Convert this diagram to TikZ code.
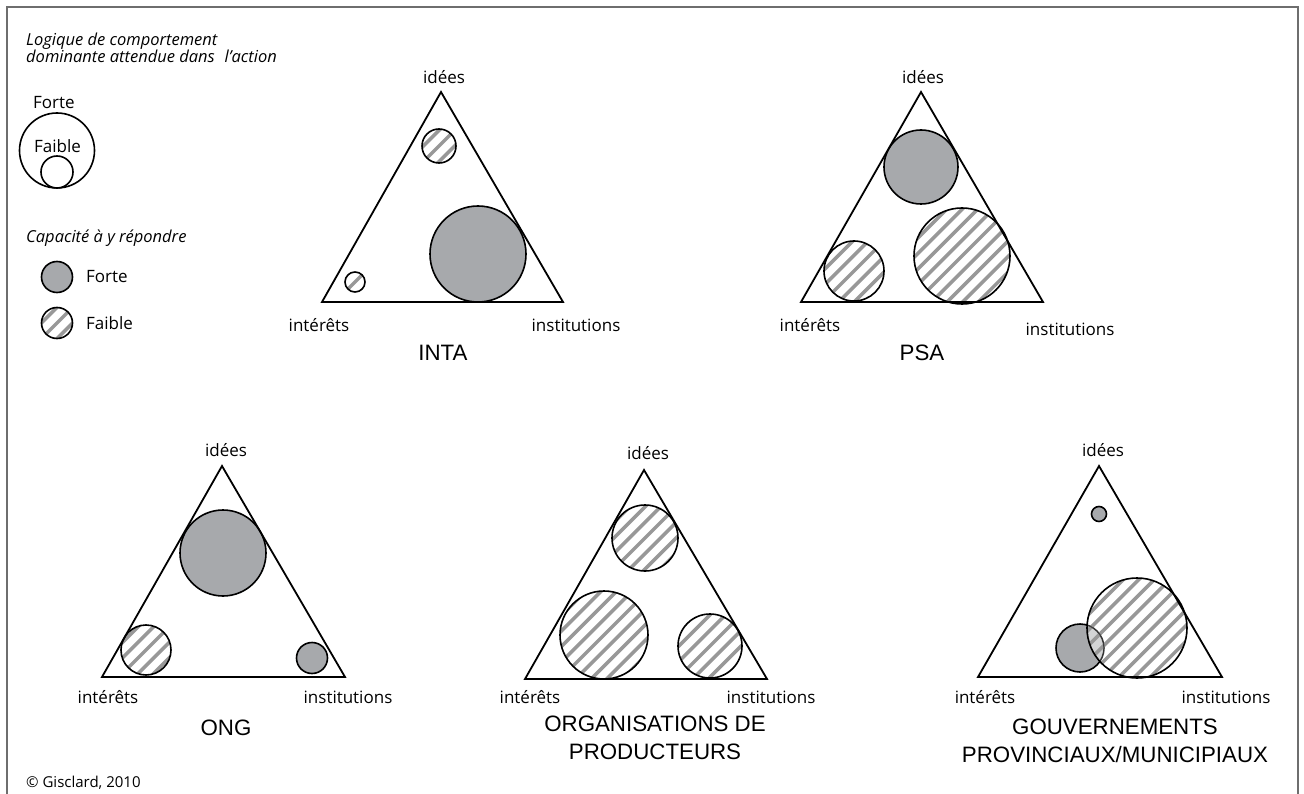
\documentclass[tikz,border=0pt]{standalone}
\usepackage{fontspec}
\setmainfont{Open Sans}
\newfontfamily\titlefont{Liberation Sans}
\definecolor{fillgray}{RGB}{167,169,172}
\definecolor{hatchgray}{RGB}{152,152,152}
\definecolor{framegray}{RGB}{110,110,110}
\tikzset{
  tri/.style={draw=black, line width=1.8pt, line join=miter},
  ring/.style={draw=black, line width=1.6pt},
  solidc/.style={ring, fill=fillgray},
  lab/.style={font=\fontsize{17}{20}\selectfont, inner sep=0pt},
  leg/.style={font=\itshape\fontsize{16.5}{20}\selectfont, inner sep=0pt, anchor=base west},
  ttl/.style={font=\titlefont\fontsize{22.3}{28}\selectfont, align=center, inner sep=0pt},
  hatchline/.style={draw=hatchgray, line width=3.5pt},
}
\newcommand\hatchcirc[4][0]{%
  \begin{scope}
    \clip (#2,#3) circle [radius=#4pt];
    \ifnum#1=1 \fill[white, fill opacity=0.5] (#2,#3) circle [radius=#4pt];\fi
    \begin{scope}[shift={(#2,#3)}, rotate=45]
      \foreach \k in {-6,...,6} \draw[hatchline] (-#4-6, \k*11) -- (#4+6, \k*11);
    \end{scope}
  \end{scope}
  \draw[ring] (#2,#3) circle [radius=#4pt];
}
\newcommand\solidcirc[3]{\draw[solidc] (#1,#2) circle [radius=#3pt];}
\begin{document}
\begin{tikzpicture}[x=1pt, y=-1pt]
\useasboundingbox (0,0) rectangle (1304,794);
\fill[white] (0,0) rectangle (1304,794);
% frame
\draw[framegray, line width=2.2pt] (7,794) -- (7,7) -- (1298,7) -- (1298,794);

% legend
\node[leg] (lg1) at (26,46) {Logique de comportement};
\node[leg] (lg2) at (26,63) {dominante attendue dans\hspace{0.6em}l'action};
\node[lab, anchor=base west] (lgforte) at (33,109) {Forte};
\draw[ring] (57,150.5) circle [radius=37.5pt];
\node[lab, anchor=base west] (lgfaible) at (34,153) {Faible};
\draw[ring] (57,172) circle [radius=16pt];
\node[leg] (lg3) at (26,243) {Capacité à y répondre};
\solidcirc{57}{277}{15.5}
\node[lab, anchor=west] (lgf2) at (86,277) {Forte};
\hatchcirc{57}{323}{15.5}
\node[lab, anchor=west] (lgf3) at (86,323) {Faible};

% INTA
\coordinate (a1) at (441,92); \coordinate (b1) at (322,302); \coordinate (c1) at (563,302);
\hatchcirc{439}{146}{17}
\solidcirc{478}{254}{48}
\hatchcirc{355}{282}{10}
\draw[tri] (a1) -- (b1) -- (c1) -- cycle;
\node[lab] (i1) at (444,77) {idées};
\node[lab] (e1) at (319,325) {intérêts};
\node[lab] (n1) at (576,325) {institutions};
\node[ttl] (t1) at (443,353) {INTA};

% PSA
\coordinate (a2) at (921,92); \coordinate (b2) at (801,302); \coordinate (c2) at (1043,302);
\solidcirc{921}{167}{37}
\hatchcirc{962}{256}{48}
\hatchcirc{854}{271}{30}
\draw[tri] (a2) -- (b2) -- (c2) -- cycle;
\node[lab] (i2) at (923,77) {idées};
\node[lab] (e2) at (810,325) {intérêts};
\node[lab] (n2) at (1070,329) {institutions};
\node[ttl] (t2) at (922,353) {PSA};

% ONG
\coordinate (a3) at (222,466); \coordinate (b3) at (102,677); \coordinate (c3) at (345,677);
\solidcirc{223}{553}{43}
\hatchcirc{146}{650}{25}
\solidcirc{312}{658}{15.5}
\draw[tri] (a3) -- (b3) -- (c3) -- cycle;
\node[lab] (i3) at (226,450) {idées};
\node[lab] (e3) at (108,697) {intérêts};
\node[lab] (n3) at (348,697) {institutions};
\node[ttl] (t3) at (226,728) {ONG};

% ORGANISATIONS DE PRODUCTEURS
\coordinate (a4) at (644,470); \coordinate (b4) at (525,679); \coordinate (c4) at (767,679);
\hatchcirc{645}{538}{33}
\hatchcirc{604}{635}{44}
\hatchcirc{710}{646}{32}
\draw[tri] (a4) -- (b4) -- (c4) -- cycle;
\node[lab] (i4) at (648,453) {idées};
\node[lab] (e4) at (530,697) {intérêts};
\node[lab] (n4) at (771,697) {institutions};
\node[ttl] (t4) at (655,738) {ORGANISATIONS DE\\PRODUCTEURS};

% GOUVERNEMENTS
\coordinate (a5) at (1099,466); \coordinate (b5) at (978,677); \coordinate (c5) at (1222,677);
\solidcirc{1099}{514}{7.5}
\solidcirc{1080}{648}{24}
\hatchcirc[1]{1137}{628}{50}
\begin{scope}
  \clip (1137,628) circle [radius=50pt];
  \draw[black, line width=1.2pt, opacity=0.6] (1080,648) circle [radius=24pt];
\end{scope}
\draw[tri] (a5) -- (b5) -- (c5) -- cycle;
\node[lab] (i5) at (1103,450) {idées};
\node[lab] (e5) at (985,697) {intérêts};
\node[lab] (n5) at (1226,697) {institutions};
\node[ttl] (t5) at (1115,741) {GOUVERNEMENTS\\PROVINCIAUX/MUNICIPIAUX};

% copyright
\node[lab, font=\fontsize{15}{18}\selectfont, anchor=base west] (cp) at (26,787) {© Gisclard, 2010};
\end{tikzpicture}
\end{document}
